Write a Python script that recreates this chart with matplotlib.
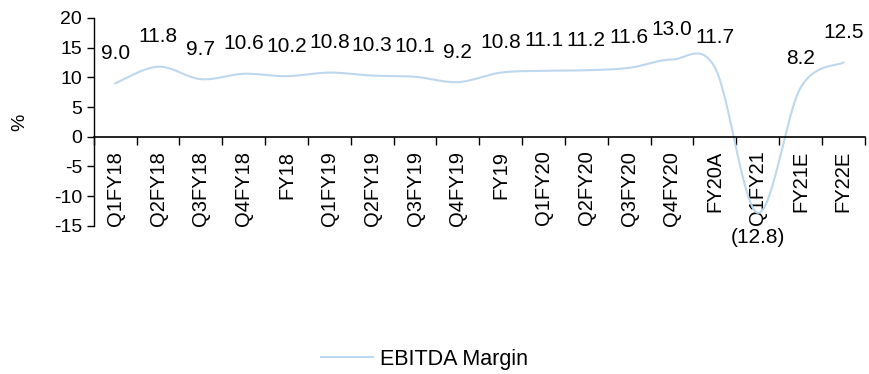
import numpy as np
import matplotlib.pyplot as plt

plt.rcParams['font.family'] = ['Liberation Sans', 'DejaVu Sans']
plt.rcParams['axes.unicode_minus'] = False

periods = ['Q1FY18', 'Q2FY18', 'Q3FY18', 'Q4FY18', 'FY18', 'Q1FY19', 'Q2FY19',
           'Q3FY19', 'Q4FY19', 'FY19', 'Q1FY20', 'Q2FY20', 'Q3FY20', 'Q4FY20',
           'FY20A', 'Q1FY21', 'FY21E', 'FY22E']
ebitda_margin = [9.0, 11.8, 9.7, 10.6, 10.2, 10.8, 10.3, 10.1, 9.2, 10.8,
                 11.1, 11.2, 11.6, 13.0, 11.7, -12.8, 8.2, 12.5]


def smooth(x, y, steps=30):
    # Catmull-Rom style bezier smoothing through every point
    x = np.asarray(x, float)
    y = np.asarray(y, float)
    px = np.concatenate([[x[0]], x, [x[-1]]])
    py = np.concatenate([[y[0]], y, [y[-1]]])
    t = np.linspace(0, 1, steps)[:, None]
    xs, ys = [], []
    for i in range(1, len(px) - 2):
        p0 = np.array([px[i], py[i]])
        p3 = np.array([px[i + 1], py[i + 1]])
        c1 = p0 + (np.array([px[i + 1], py[i + 1]]) - np.array([px[i - 1], py[i - 1]])) / 6
        c2 = p3 - (np.array([px[i + 2], py[i + 2]]) - np.array([px[i], py[i]])) / 6
        seg = ((1 - t) ** 3) * p0 + 3 * ((1 - t) ** 2) * t * c1 + 3 * (1 - t) * t ** 2 * c2 + t ** 3 * p3
        xs.append(seg[:, 0])
        ys.append(seg[:, 1])
    return np.concatenate(xs), np.concatenate(ys)


fig = plt.figure(figsize=(8.69, 3.74), dpi=100)
ax = fig.add_axes([0.108, 0.396, 0.887, 0.556])

xpos = np.arange(len(periods)) + 0.5
sx, sy = smooth(xpos, ebitda_margin)
line, = ax.plot(sx, sy, color='#BDD7EE', lw=1.5, label='EBITDA Margin')

for x, v in zip(xpos, ebitda_margin):
    if v < 0:
        txt = '({:.1f})'.format(abs(v))
        off = -25
    else:
        txt = '{:.1f}'.format(v)
        off = 30
    ax.annotate(txt, (x, v), xytext=(0, off), textcoords='offset pixels',
                ha='center', va='center', fontsize=15, color='black')

ax.set_xlim(0, len(periods))
ax.set_ylim(-15, 20)
ax.set_yticks(np.arange(-15, 21, 5))
ax.tick_params(axis='y', direction='out', length=5, width=1, pad=3.5, labelsize=14)

# ticks on category borders, labels in the middle of each category
ax.tick_params(axis='x', which='major', direction='out', length=6, width=1,
               labelbottom=False)
ax.tick_params(axis='x', which='minor', length=0, pad=10, labelsize=14.5,
               labelrotation=90)
ax.set_xticks(np.arange(len(periods) + 1))
ax.set_xticks(xpos, minor=True)
ax.set_xticklabels(periods, minor=True, va='top')

ax.spines['top'].set_visible(False)
ax.spines['right'].set_visible(False)
ax.spines['bottom'].set_position(('data', 0))
ax.spines['bottom'].set_linewidth(1.2)
ax.spines['left'].set_linewidth(1)

ax.set_ylabel('%', fontsize=14)
ax.yaxis.set_label_coords(-0.085, 0.5)

fig.legend(handles=[line], loc='center', bbox_to_anchor=(0.4885, 0.04),
           frameon=False, fontsize=15.5, handlelength=2.4, handletextpad=0.35)

fig.savefig('out.png', dpi=100)
